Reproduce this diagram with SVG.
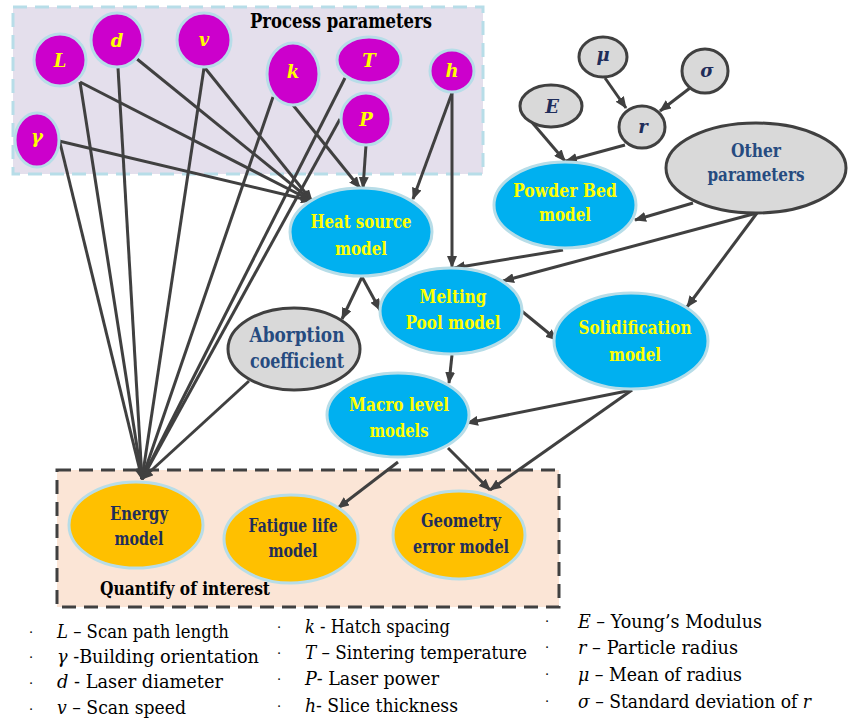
<svg xmlns="http://www.w3.org/2000/svg" width="848" height="720" viewBox="0 0 848 720">
<style>
.mag{fill:#cc00cc;stroke:#b7dde8;stroke-width:3}
.blue{fill:#00b0f0;stroke:#b7dde8;stroke-width:3}
.org{fill:#ffc000;stroke:#b7dde8;stroke-width:3}
.grey{fill:#d9d9d9;stroke:#404040;stroke-width:3}
text{font-family:'DejaVu Serif','Liberation Serif',serif}
.t{font-weight:bold;font-size:18.5px;text-anchor:middle}
.to{font-weight:bold;font-size:18px;text-anchor:middle}
.ta{font-weight:bold;font-size:19.5px;text-anchor:middle}
.sym{font-weight:bold;font-style:italic;font-size:18px;text-anchor:middle}
.y{fill:#ffff00}
.nv{fill:#1f2d5a}
.gb{fill:#264b80}
.e{fill:none;stroke:#404040;stroke-width:3;marker-end:url(#ah)}
.lg{font-size:18px;fill:#000}
.b{font-size:13px;fill:#000}
.i{font-style:italic}
.ttl{font-weight:bold;fill:#000}
</style>
<defs>
<marker id="ah" viewBox="0 0 12 10" refX="11" refY="5" markerWidth="12" markerHeight="10" markerUnits="userSpaceOnUse" orient="auto">
<path d="M0,0 L12,5 L0,10 z" fill="#404040"/>
</marker>
</defs>
<rect width="848" height="720" fill="#ffffff"/>
<g id="process-box">
<rect x="13" y="7" width="470" height="167" fill="#e4dfec" stroke="#b7dde8" stroke-width="3" stroke-dasharray="14 8"/>
</g>
<g id="quantify-box">
<rect x="57" y="470" width="502" height="137" fill="#fbe5d6" stroke="#404040" stroke-width="3" stroke-dasharray="14 8"/>
</g>
<g id="connectors">
<path class="e" d="M80,82 L312,201"/>
<path class="e" d="M137,59 L312,201"/>
<path class="e" d="M205,68 L312,201"/>
<path class="e" d="M59,141 L312,201"/>
<path class="e" d="M293,105 L360,188"/>
<path class="e" d="M366,145 L363,188"/>
<path class="e" d="M452,93 L413,199"/>
<path class="e" d="M452,93 L452,267"/>
<path class="e" d="M60,143 L142,479"/>
<path class="e" d="M80,82 L142,479"/>
<path class="e" d="M118,68 L142,479"/>
<path class="e" d="M204,68 L142,479"/>
<path class="e" d="M273,97 L142,479"/>
<path class="e" d="M345,78 L142,479"/>
<path class="e" d="M340,119 L142,479"/>
<path class="e" d="M249,381 L142,479"/>
<path class="e" d="M362,277 L342,319"/>
<path class="e" d="M362,277 L380,310"/>
<path class="e" d="M563,250 L454,268"/>
<path class="e" d="M757,213 L503,281"/>
<path class="e" d="M693,203 L635,220"/>
<path class="e" d="M757,213 L687,307"/>
<path class="e" d="M530,120 L565,161"/>
<path class="e" d="M625,145 L566,161"/>
<path class="e" d="M605,78 L626,108"/>
<path class="e" d="M690,88 L660,111"/>
<path class="e" d="M518,308 L557,340"/>
<path class="e" d="M452,355 L449,383"/>
<path class="e" d="M632,390 L467,423"/>
<path class="e" d="M632,390 L490,490"/>
<path class="e" d="M448,448 L490,490"/>
<path class="e" d="M398,462 L338,508"/>
</g>
<g id="node-L"><ellipse class="mag" cx="60" cy="60" rx="26" ry="26"/><text class="sym y" x="60" y="67">L</text></g>
<g id="node-d"><ellipse class="mag" cx="117" cy="40" rx="26" ry="27"/><text class="sym y" x="117" y="47">d</text></g>
<g id="node-v"><ellipse class="mag" cx="204" cy="40" rx="27" ry="27"/><text class="sym y" x="204" y="46">v</text></g>
<g id="node-k"><ellipse class="mag" cx="293" cy="74" rx="26" ry="31"/><text class="sym y" x="293" y="78">k</text></g>
<g id="node-T"><ellipse class="mag" cx="369" cy="60" rx="32" ry="23"/><text class="sym y" x="369" y="67">T</text></g>
<g id="node-P"><ellipse class="mag" cx="366" cy="119" rx="25" ry="26"/><text class="sym y" x="366" y="126">P</text></g>
<g id="node-h"><ellipse class="mag" cx="452" cy="71" rx="22" ry="21"/><text class="sym y" x="452" y="77">h</text></g>
<g id="node-gamma"><ellipse class="mag" cx="37" cy="140" rx="22" ry="27"/><text class="sym y" x="37" y="143">γ</text></g>
<g id="node-mu"><ellipse class="grey" cx="603" cy="57" rx="24" ry="20"/><text class="sym nv" x="603" y="61">μ</text></g>
<g id="node-sigma"><ellipse class="grey" cx="705" cy="71" rx="23" ry="22"/><text class="sym nv" x="707" y="77">σ</text></g>
<g id="node-E"><ellipse class="grey" cx="551" cy="106" rx="31" ry="21"/><text class="sym nv" x="552" y="113">E</text></g>
<g id="node-r"><ellipse class="grey" cx="642" cy="127" rx="23" ry="21"/><text class="sym nv" x="643" y="133">r</text></g>
<g id="node-other"><ellipse class="grey" cx="756" cy="168" rx="90" ry="45"/><text class="t gb" x="756" y="157" textLength="50" lengthAdjust="spacingAndGlyphs">Other</text><text class="t gb" x="756" y="181" textLength="97" lengthAdjust="spacingAndGlyphs">parameters</text></g>
<g id="node-powder"><ellipse class="blue" cx="565" cy="205" rx="71" ry="43"/><text class="t y" x="565" y="197" textLength="104" lengthAdjust="spacingAndGlyphs">Powder Bed</text><text class="t y" x="565" y="221" textLength="52" lengthAdjust="spacingAndGlyphs">model</text></g>
<g id="node-heat"><ellipse class="blue" cx="361" cy="232" rx="71" ry="44"/><text class="t y" x="361" y="228" textLength="101" lengthAdjust="spacingAndGlyphs">Heat source</text><text class="t y" x="361" y="255" textLength="52" lengthAdjust="spacingAndGlyphs">model</text></g>
<g id="node-melting"><ellipse class="blue" cx="451" cy="311" rx="71" ry="43"/><text class="t y" x="453" y="303" textLength="67" lengthAdjust="spacingAndGlyphs">Melting</text><text class="t y" x="453" y="329" textLength="95" lengthAdjust="spacingAndGlyphs">Pool model</text></g>
<g id="node-solid"><ellipse class="blue" cx="631" cy="341" rx="77" ry="48"/><text class="t y" x="635" y="334" textLength="113" lengthAdjust="spacingAndGlyphs">Solidification</text><text class="t y" x="635" y="361" textLength="52" lengthAdjust="spacingAndGlyphs">model</text></g>
<g id="node-absorp"><ellipse class="grey" cx="294" cy="349" rx="66" ry="41"/><text class="ta gb" x="297" y="342" textLength="95" lengthAdjust="spacingAndGlyphs">Aborption</text><text class="ta gb" x="297" y="368" textLength="94" lengthAdjust="spacingAndGlyphs">coefficient</text></g>
<g id="node-macro"><ellipse class="blue" cx="398" cy="415" rx="71" ry="42"/><text class="t y" x="399" y="411" textLength="100" lengthAdjust="spacingAndGlyphs">Macro level</text><text class="t y" x="399" y="437" textLength="59" lengthAdjust="spacingAndGlyphs">models</text></g>
<g id="node-energy"><ellipse class="org" cx="136" cy="525" rx="67" ry="43"/><text class="to nv" x="139" y="520" textLength="58" lengthAdjust="spacingAndGlyphs">Energy</text><text class="to nv" x="139" y="545" textLength="49" lengthAdjust="spacingAndGlyphs">model</text></g>
<g id="node-fatigue"><ellipse class="org" cx="291" cy="539" rx="67" ry="44"/><text class="to nv" x="293" y="532" textLength="89" lengthAdjust="spacingAndGlyphs">Fatigue life</text><text class="to nv" x="293" y="557" textLength="49" lengthAdjust="spacingAndGlyphs">model</text></g>
<g id="node-geometry"><ellipse class="org" cx="459" cy="535" rx="66" ry="44"/><text class="to nv" x="461" y="527" textLength="80" lengthAdjust="spacingAndGlyphs">Geometry</text><text class="to nv" x="461" y="553" textLength="96" lengthAdjust="spacingAndGlyphs">error model</text></g>
<g id="titles">
<text class="ttl" x="250" y="28" font-size="19.5" textLength="182" lengthAdjust="spacingAndGlyphs">Process parameters</text>
<text class="ttl" x="100" y="595" font-size="18.5" textLength="170" lengthAdjust="spacingAndGlyphs">Quantify of interest</text>
</g>
<g id="legend">
<g class="b">
<text x="29" y="637">·</text><text x="29" y="662">·</text><text x="29" y="688">·</text><text x="29" y="714">·</text>
<text x="277" y="632">·</text><text x="277" y="658">·</text><text x="277" y="684">·</text><text x="277" y="711">·</text>
<text x="545" y="626">·</text><text x="545" y="652">·</text><text x="545" y="679">·</text><text x="545" y="706">·</text>
</g>
<g class="lg">
<text x="57" y="638" textLength="172" lengthAdjust="spacingAndGlyphs"><tspan class="i">L</tspan> – Scan path length</text>
<text x="57" y="663" textLength="202" lengthAdjust="spacingAndGlyphs"><tspan class="i">γ</tspan> -Building orientation</text>
<text x="57" y="688" textLength="166" lengthAdjust="spacingAndGlyphs"><tspan class="i">d</tspan>  - Laser diameter</text>
<text x="57" y="714" textLength="129" lengthAdjust="spacingAndGlyphs"><tspan class="i">v</tspan> – Scan speed</text>
<text x="305" y="633" textLength="145" lengthAdjust="spacingAndGlyphs"><tspan class="i">k</tspan> - Hatch spacing</text>
<text x="305" y="659" textLength="222" lengthAdjust="spacingAndGlyphs"><tspan class="i">T</tspan> – Sintering temperature</text>
<text x="305" y="685" textLength="134" lengthAdjust="spacingAndGlyphs"><tspan class="i">P</tspan>- Laser power</text>
<text x="305" y="712" textLength="153" lengthAdjust="spacingAndGlyphs"><tspan class="i">h</tspan>- Slice thickness</text>
<text x="578" y="628" textLength="184" lengthAdjust="spacingAndGlyphs"><tspan class="i">E</tspan> – Young’s Modulus</text>
<text x="578" y="654" textLength="160" lengthAdjust="spacingAndGlyphs"><tspan class="i">r</tspan> – Particle radius</text>
<text x="578" y="681" textLength="164" lengthAdjust="spacingAndGlyphs"><tspan class="i">μ</tspan> – Mean of radius</text>
<text x="578" y="708" textLength="233" lengthAdjust="spacingAndGlyphs"><tspan class="i">σ</tspan> – Standard deviation of <tspan class="i">r</tspan></text>
</g>
</g>
</svg>
